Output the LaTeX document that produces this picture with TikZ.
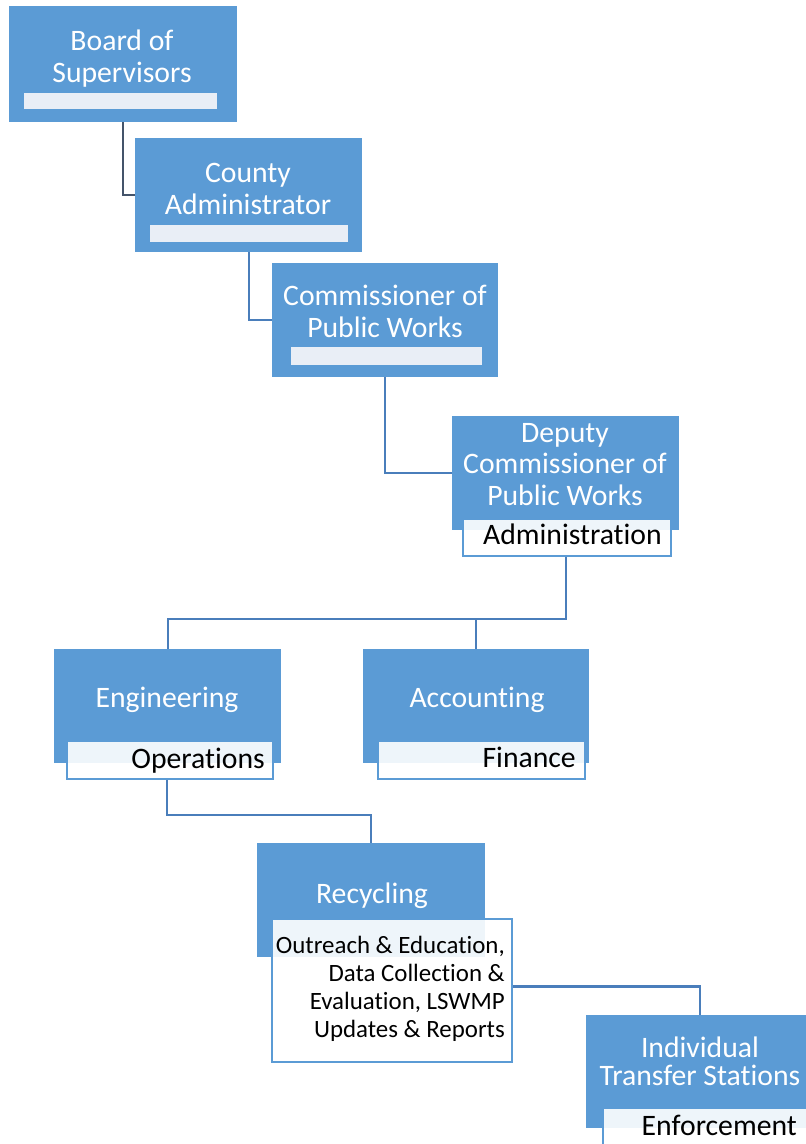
\documentclass[tikz,border=0pt]{standalone}
\usepackage{fontspec}
\setmainfont{Carlito}[Ligatures=NoCommon]
\definecolor{boxblue}{HTML}{5B9BD5}
\definecolor{stripfill}{HTML}{E9EEF6}
\definecolor{linkblue}{HTML}{4A7EBB}
\definecolor{linkdark}{HTML}{44546A}
\tikzset{
  bluebox/.style={fill=boxblue, draw=none, anchor=north west, inner sep=0pt},
  lightstrip/.style={fill=stripfill, draw=none, anchor=north west, inner sep=0pt},
  whitestrip/.style={fill=white, fill opacity=0.9, draw=boxblue, line width=1.8pt, anchor=north west, inner sep=0pt},
  big/.style={font=\fontsize{29.7}{32}\selectfont, inner sep=0pt, anchor=base},
  wt/.style={big, text=white},
  bt/.style={big, text=black, anchor=base east},
  small/.style={font=\fontsize{24.9}{28}\selectfont, inner sep=0pt, anchor=base east, text=black},
  link/.style={draw=linkblue, line width=2.2pt},
  linkd/.style={draw=linkdark, line width=2.2pt},
}
\begin{document}
\begin{tikzpicture}[x=1pt,y=-1pt]
\fill[white] (0,0) rectangle (806,1144);
\clip (0,0) rectangle (806,1144);
% boxes
\node[bluebox, minimum width=228pt, minimum height=116pt] (board) at (9,6) {};
\node[lightstrip, minimum width=193pt, minimum height=16pt] (boardstrip) at (24,93) {};
\node[bluebox, minimum width=227pt, minimum height=114pt] (county) at (135,138) {};
\node[lightstrip, minimum width=198pt, minimum height=17pt] (countystrip) at (150,225) {};
\node[bluebox, minimum width=226pt, minimum height=114pt] (comm) at (272,263) {};
\node[lightstrip, minimum width=191pt, minimum height=18pt] (commstrip) at (291,347) {};
\node[bluebox, minimum width=227pt, minimum height=114pt] (deputy) at (452,416) {};
\node[whitestrip, minimum width=208pt, minimum height=37pt] (admin) at (462,518) {};
\node[bluebox, minimum width=227pt, minimum height=114pt] (eng) at (54,649) {};
\node[whitestrip, minimum width=206pt, minimum height=38pt] (ops) at (66,740) {};
\node[bluebox, minimum width=226pt, minimum height=114pt] (acc) at (363,649) {};
\node[whitestrip, minimum width=207pt, minimum height=38pt] (fin) at (377,740) {};
\node[bluebox, minimum width=228pt, minimum height=114pt] (rec) at (257,843) {};
\node[whitestrip, minimum width=240pt, minimum height=143pt] (recstrip) at (271,918) {};
\node[bluebox, minimum width=227pt, minimum height=113pt] (ind) at (586,1015) {};
\node[whitestrip, minimum width=210pt, minimum height=40pt] (enf) at (602,1107) {};
% texts
\node[wt] (t1a) at (122,50) {Board of};
\node[wt] (t1b) at (122,82) {Supervisors};
\node[wt] (t2a) at (248,182) {County};
\node[wt] (t2b) at (248,214) {Administrator};
\node[wt] (t3a) at (385,305) {Commissioner of};
\node[wt] (t3b) at (385,337) {Public Works};
\node[wt] (t4a) at (565,442) {Deputy};
\node[wt] (t4b) at (565,473) {Commissioner of};
\node[wt] (t4c) at (565,505) {Public Works};
\node[bt] (t4d) at (662,544) {Administration};
\node[wt] (t5a) at (167,707) {Engineering};
\node[bt] (t5b) at (265,768) {Operations};
\node[wt] (t6a) at (477,707) {Accounting};
\node[bt] (t6b) at (576,767) {Finance};
\node[wt] (t7a) at (372,903) {Recycling};
\node[small] (t7b) at (505,953) {Outreach \& Education,};
\node[small] (t7c) at (505,981) {Data Collection \&};
\node[small] (t7d) at (505,1009) {Evaluation, LSWMP};
\node[small] (t7e) at (505,1037) {Updates \& Reports};
\node[wt] (t8a) at (700,1057) {Individual};
\node[wt] (t8b) at (700,1085) {Transfer Stations};
\node[bt] (t8c) at (797,1135) {Enforcement};
% connectors
\coordinate (bus) at (566,619);
\coordinate (j2) at (167,815);
\draw[linkd] (board.south) |- (county.west);
\draw[link] (county.south) |- (comm.west);
\draw[link] (comm.south) |- (deputy.west);
\draw[link] (admin.south -| bus) -- (bus) -| (eng.north);
\draw[link] (acc.north) -- (acc.north |- bus);
\draw[link] (ops.south -| j2) -- (j2) -| (rec.north);
\draw[link] ([yshift=4pt]recstrip.east) -| (ind.north);
\end{tikzpicture}
\end{document}
